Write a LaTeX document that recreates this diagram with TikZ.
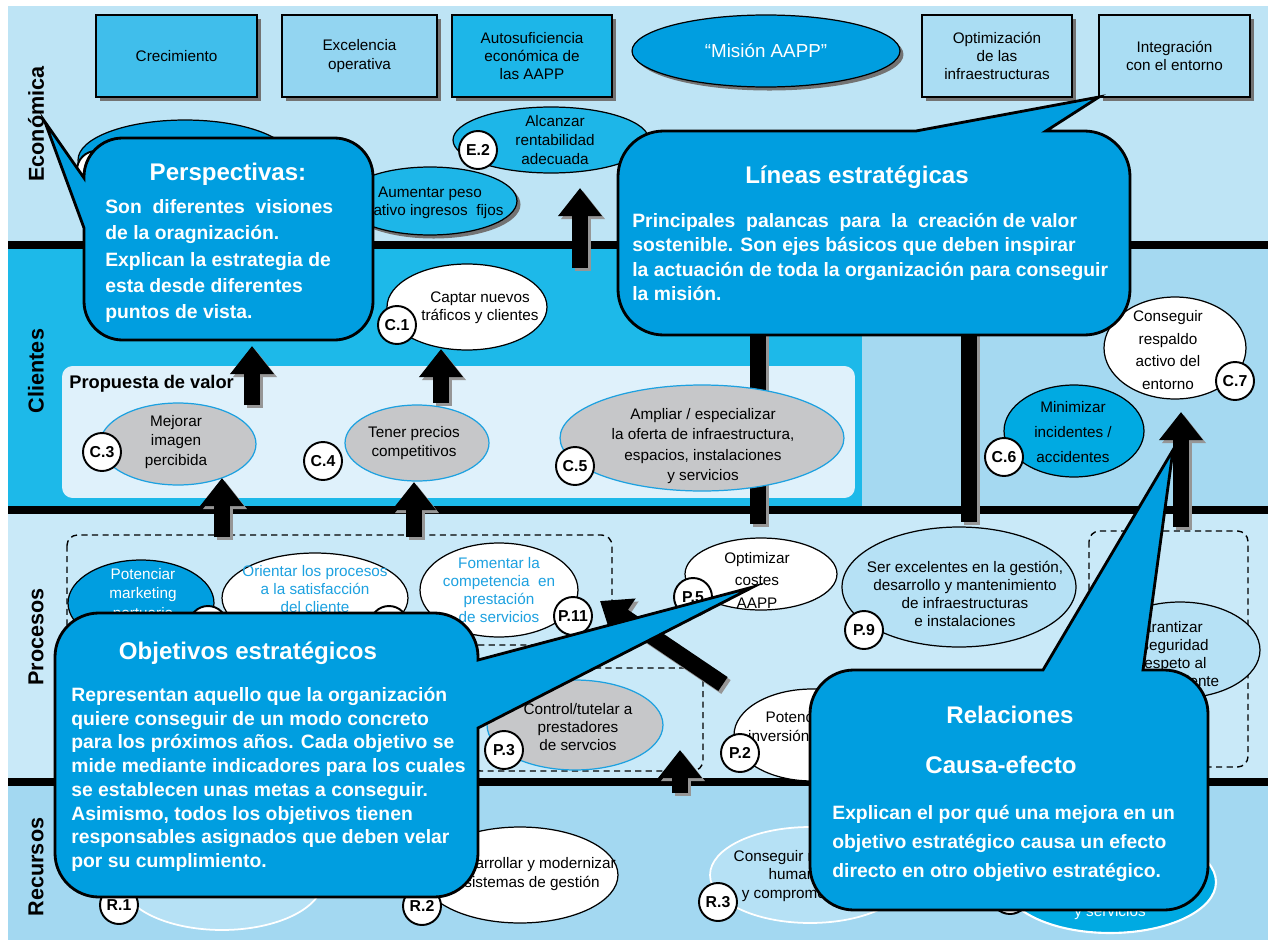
\documentclass[tikz,border=0pt]{standalone}
\usepackage{fontspec}
\setmainfont{Liberation Sans}
\usetikzlibrary{shapes.geometric,arrows.meta,shadows}

\definecolor{ecoband}{RGB}{190,228,245}
\definecolor{cliband}{RGB}{29,185,233}
\definecolor{cliright}{RGB}{165,217,241}
\definecolor{proband}{RGB}{201,233,248}
\definecolor{recband}{RGB}{163,216,241}
\definecolor{propfill}{RGB}{223,241,251}
\definecolor{calloutblue}{RGB}{0,158,224}
\definecolor{crecfill}{RGB}{64,190,235}
\definecolor{excfill}{RGB}{147,213,241}
\definecolor{autofill}{RGB}{29,182,232}
\definecolor{infrafill}{RGB}{170,221,243}
\definecolor{ecofill}{RGB}{29,182,232}
\definecolor{greyfill}{RGB}{198,199,201}
\definecolor{lineblue}{RGB}{29,161,224}
\definecolor{minfill}{RGB}{0,170,226}
\definecolor{lightfill}{RGB}{182,225,245}
\definecolor{arrowshade}{RGB}{150,150,150}

\begin{document}
\begin{tikzpicture}[x=0.02cm,y=-0.02cm,
	every node/.style={font=\fontsize{8.7}{10.4}\selectfont},
	txt/.style={align=center,inner sep=0pt},
	side/.style={rotate=90,font=\bfseries\fontsize{12.3}{14}\selectfont},
	topbox/.style={draw,line width=0.9pt,minimum height=1.64cm,align=center,drop shadow={shadow xshift=2pt,shadow yshift=-2pt,fill=black!55,opacity=1}},
	obj/.style={ellipse,draw,line width=0.7pt,inner sep=0pt},
	greyobj/.style={obj,draw=lineblue,fill=greyfill},
	tag/.style={circle,draw,fill=white,line width=1.1pt,minimum size=0.76cm,inner sep=0pt,font=\bfseries\fontsize{9}{9}\selectfont},
	group/.style={draw,line width=0.8pt,dash pattern=on 3.5pt off 2.5pt,rounded corners=6pt},
	bandline/.style={line width=4.5pt},
	bigarrow/.style={line width=9.5pt,-{Triangle[length=16pt,width=24pt]}},
	bigbar/.style={line width=9.5pt},
	shade/.style={arrowshade,transform canvas={xshift=1.7pt,yshift=-1.7pt}},
	callout/.style={draw,line width=1.6pt,fill=calloutblue},
	head/.style={text=white,inner sep=0pt,font=\bfseries\fontsize{13.7}{16}\selectfont},
	body/.style={text=white,align=left,inner sep=0pt,anchor=north west}
]
	\useasboundingbox (0,0) rectangle (1268,943);
	\fill[white] (0,0) rectangle (1268,943);
	% bands
	\fill[ecoband] (8,6) rectangle (1268,245);
	\fill[cliband] (8,245) rectangle (862,510);
	\fill[cliright] (862,245) rectangle (1268,510);
	\fill[proband] (8,510) rectangle (1268,782);
	\fill[recband] (8,782) rectangle (1268,940);
	\draw[bandline] (8,245) -- (1268,245);
	\draw[bandline] (8,510) -- (1268,510);
	\draw[bandline] (8,782) -- (1268,782);
	\node[side] (eco) at (36,124) {Económica};
	\node[side] (cli) at (36,371) {Clientes};
	\node[side] (pro) at (36,637) {Procesos};
	\node[side] (rec) at (36,867) {Recursos};

	% lineas estrategicas
	\node[topbox,fill=crecfill,minimum width=3.22cm] (crec) at (176.5,56) {Crecimiento};
	\node[topbox,fill=excfill,minimum width=3.1cm] (exc) at (359.5,56) {Excelencia\\operativa};
	\node[topbox,fill=autofill,minimum width=3.2cm] (auto) at (532,56) {Autosuficiencia\\económica de\\las AAPP};
	\node[obj,fill=calloutblue,minimum width=5.36cm,minimum height=1.44cm,text=white,font=\fontsize{10.7}{12}\selectfont,drop shadow={shadow xshift=2pt,shadow yshift=-2pt,fill=black!55,opacity=1}] (mision) at (766,51) {“Misión AAPP”};
	\node[topbox,fill=infrafill,minimum width=3.0cm] (infra) at (997,56) {Optimización\\de las\\infraestructuras};
	\node[topbox,fill=infrafill,minimum width=3.02cm] (integ) at (1174.5,56) {Integración\\con el entorno};

	% economica
	\node[obj,fill=calloutblue,minimum width=4.28cm,minimum height=1.6cm] (e1e) at (185,160) {};
	\node[tag] (e1) at (96,170) {};
	\node[obj,fill=ecofill,minimum width=3.48cm,minimum height=1.36cm,drop shadow={shadow xshift=2pt,shadow yshift=-2pt,fill=black!55,opacity=1}] (e3e) at (430,201) {};
	\node[txt] (e3t) at (430,203) {Aumentar peso\\relativo ingresos\ \ fijos};
	\node[obj,fill=ecofill,minimum width=3.92cm,minimum height=1.32cm] (e2e) at (551,140) {};
	\node[txt,font=\fontsize{8.7}{11}\selectfont] (e2t) at (555,140) {Alcanzar\\rentabilidad\\adecuada};
	\node[tag] (e2) at (478,150) {E.2};

	% clientes
	\node[obj,fill=white,minimum width=3.2cm,minimum height=1.72cm] (c1e) at (467,307) {};
	\node[txt] (c1t) at (480,308) {Captar nuevos\\tráficos y clientes};
	\node[tag] (c1) at (397,325) {C.1};
	\node[fill=propfill,rounded corners=6pt,minimum width=15.86cm,minimum height=2.64cm] (prop) at (458.5,432) {};
	\node[anchor=west,inner sep=0pt,font=\bfseries\fontsize{10.4}{12}\selectfont] (propt) at (69,384) {Propuesta de valor};
	% ejes que bajan desde las lineas estrategicas
	\coordinate (p5up) at (758,320);  \coordinate (p5top) at (758,524);
	\coordinate (p9up) at (969,320);  \coordinate (p9top) at (969,522);
	\draw[bigbar,shade] (p5up) -- (p5top);
	\draw[bigbar] (p5up) -- (p5top);
	\draw[bigbar,shade] (p9up) -- (p9top);
	\draw[bigbar] (p9up) -- (p9top);
	\node[greyobj,minimum width=3.12cm,minimum height=1.64cm] (c3e) at (178,444) {};
	\node[txt,font=\fontsize{8.7}{11.3}\selectfont] (c3t) at (176,442) {Mejorar\\imagen\\percibida};
	\node[tag] (c3) at (102,452) {C.3};
	\node[greyobj,minimum width=2.88cm,minimum height=1.52cm] (c4e) at (417,443) {};
	\node[txt] (c4t) at (414,443) {Tener precios\\competitivos};
	\node[tag] (c4) at (323,461) {C.4};
	\node[greyobj,minimum width=5.68cm,minimum height=2.12cm] (c5e) at (702,438) {};
	\node[txt,font=\fontsize{8.7}{11.6}\selectfont] (c5t) at (703,446) {Ampliar / especializar\\la oferta de infraestructura,\\espacios, instalaciones\\y servicios};
	\node[tag] (c5) at (575,466) {C.5};
	\node[obj,fill=white,minimum width=2.84cm,minimum height=2.04cm] (c7e) at (1175,348) {};
	\node[txt,font=\fontsize{8.7}{12.9}\selectfont] (c7t) at (1168,350) {Conseguir\\respaldo\\activo del\\entorno};
	\node[tag] (c7) at (1235,381) {C.7};
	\node[obj,fill=minfill,minimum width=2.8cm,minimum height=1.84cm] (c6e) at (1074,431) {};
	\node[txt,font=\fontsize{8.7}{14.2}\selectfont] (c6t) at (1073,432) {Minimizar\\incidentes /\\accidentes};
	\node[tag] (c6) at (1004,457) {C.6};

	% procesos
	\draw[group] (67,535) rectangle (612,645);
	\draw[group] (470,668) rectangle (703,771);
	\draw[group] (1089,531) rectangle (1248,767);
	\node[obj,fill=calloutblue,minimum width=2.92cm,minimum height=1.72cm] (pmkte) at (141,603) {};
	\node[txt,text=white,font=\fontsize{8.7}{11.3}\selectfont] (pmktt) at (143,595) {Potenciar\\marketing\\portuario};
	\node[tag] (pmkt) at (208,625) {};
	\node[obj,fill=white,minimum width=3.72cm,minimum height=1.8cm] (p1e) at (315,598) {};
	\node[txt,text=lineblue,font=\fontsize{8.7}{10}\selectfont] (p1t) at (315,589) {Orientar los procesos\\a la satisfacción\\del cliente};
	\node[tag] (p1) at (389,625) {};
	\node[obj,fill=white,minimum width=3.16cm,minimum height=1.88cm] (p11e) at (499,590) {};
	\node[txt,text=lineblue] (p11t) at (499,590) {Fomentar la\\competencia\ \ en\\prestación\\de servicios};
	\node[tag] (p11) at (573,616) {P.11};
	\node[obj,fill=white,minimum width=3.04cm,minimum height=1.44cm] (p5e) at (761,574) {};
	\node[txt,font=\fontsize{8.7}{12.8}\selectfont] (p5t) at (757,580) {Optimizar\\costes\\AAPP};
	\node[tag] (p5) at (693,597) {P.5};
	\node[obj,fill=lightfill,minimum width=4.68cm,minimum height=2.4cm] (p9e) at (959,587) {};
	\node[txt] (p9t) at (965,594) {Ser excelentes en la gestión,\\desarrollo y mantenimiento\\de infraestructuras\\e instalaciones};
	\node[tag] (p9) at (864,630) {P.9};
	\node[obj,fill=lightfill,minimum width=3.2cm,minimum height=1.92cm] (p7e) at (1180,650) {};
	\node[txt] (p7t) at (1167,654) {Garantizar\\la seguridad\\y respeto al\\medioambiente};
	\node[greyobj,minimum width=3.52cm,minimum height=1.8cm] (p3e) at (575,725) {};
	\node[txt,font=\fontsize{8.7}{10}\selectfont] (p3t) at (578,727) {Control/tutelar a\\prestadores\\de servcios};
	\node[tag] (p3) at (504,750) {P.3};
	\node[obj,fill=white,minimum width=3.12cm,minimum height=1.84cm] (p2e) at (812,735) {};
	\node[txt,font=\fontsize{8.7}{10.8}\selectfont] (p2t) at (806,728) {Potenciar la\\inversión privada};
	\node[tag] (p2) at (740,753) {P.2};

	% recursos
	\node[obj,draw=white,line width=1pt,fill=lightfill,minimum width=4.04cm,minimum height=2cm] (r1e) at (222,880) {};
	\node[tag] (r1) at (119,905) {R.1};
	\node[obj,fill=white,minimum width=3.92cm,minimum height=1.92cm] (r2e) at (520,875) {};
	\node[txt] (r2t) at (532,874) {Desarrollar y modernizar\\sistemas de gestión};
	\node[tag] (r2) at (422,906) {R.2};
	\node[obj,draw=white,line width=1pt,fill=lightfill,minimum width=4cm,minimum height=1.92cm] (r3e) at (810,875) {};
	\node[txt] (r3t) at (800,876) {Conseguir recursos\\humanos\\y comprometidos};
	\node[tag] (r3) at (718,902) {R.3};
	\node[obj,draw=white,line width=1.2pt,fill=minfill,minimum width=4.24cm,minimum height=2.04cm] (r4e) at (1110,882) {};
	\node[txt,text=white] (r4t) at (1110,913) {y servicios};
	\node[tag] (r4) at (1010,895) {};

	% relaciones causa-efecto
	\coordinate (e2from) at (580,268);  \coordinate (e2to) at (580,188);
	\coordinate (persfrom) at (252,405); \coordinate (persto) at (252,346);
	\coordinate (c1from) at (441,403);  \coordinate (c1to) at (441,349);
	\coordinate (c3from) at (222,537);  \coordinate (c3to) at (222,478);
	\coordinate (c4from) at (414,537);  \coordinate (c4to) at (414,482);
	\coordinate (c7from) at (1181,527); \coordinate (c7to) at (1181,412);
	\coordinate (p3from) at (680,793);  \coordinate (p3to) at (680,750);
	\coordinate (p11from) at (723,684); \coordinate (p11to) at (600,601);
	\foreach \a/\b in {e2from/e2to,persfrom/persto,c1from/c1to,c3from/c3to,c4from/c4to,c7from/c7to,p3from/p3to,p11from/p11to}{
		\draw[bigarrow,shade] (\a) -- (\b);
		\draw[bigarrow] (\a) -- (\b);
	}

	% callouts
	\draw[callout] (84,228) [rounded corners=22pt] -- (84,340) -- (373,340) -- (373,138) -- (84,138) [sharp corners] -- (84,178) -- (45,122) -- cycle;
	\node[head] (perst) at (228,174) {Perspectivas:};
	\node[body,font=\bfseries\fontsize{11}{15}\selectfont] (persb) at (105,199) {Son\ \ diferentes\ \ visiones\\de la oragnización.\\Explican la estrategia de\\esta desde diferentes\\puntos de vista.};

	\draw[callout] (1046,131) [rounded corners=26pt] -- (1130,131) -- (1130,335) -- (618,335) -- (618,131) [sharp corners] -- (916,131) -- (1099,97) -- cycle;
	\node[head] (lint) at (857,177) {Líneas estratégicas};
	\node[body,font=\bfseries\fontsize{11}{13.9}\selectfont] (linb) at (632,213) {Principales\ \ palancas\ \ para\ \ la\ \ creación de valor\\sostenible. Son ejes básicos que deben inspirar\\la actuación de toda la organización para conseguir\\la misión.};

	\draw[callout] (478,728) [rounded corners=25pt] -- (478,897) -- (55,897) -- (55,613) -- (478,613) [sharp corners] -- (478,660) -- (753,587) -- cycle;
	\node[head] (objt) at (248,653) {Objetivos estratégicos};
	\node[body,font=\bfseries\fontsize{11}{13.5}\selectfont] (objb) at (71,687) {Representan aquello que la organización\\quiere conseguir de un modo concreto\\para los próximos años. Cada objetivo se\\mide mediante indicadores para los cuales\\se establecen unas metas a conseguir.\\Asimismo, todos los objetivos tienen\\responsables asignados que deben velar\\por su cumplimiento.};

	\draw[callout] (1143,670) [rounded corners=25pt] -- (1208,670) -- (1208,910) -- (810,910) -- (810,670) [sharp corners] -- (1043,670) -- (1173,450) -- cycle;
	\node[head] (relt) at (1010,715) {Relaciones};
	\node[head] (caut) at (1001,765) {Causa-efecto};
	\node[body,font=\bfseries\fontsize{11}{16.4}\selectfont] (relb) at (832,805) {Explican el por qué una mejora en un\\objetivo estratégico causa un efecto\\directo en otro objetivo estratégico.};
\end{tikzpicture}
\end{document}
